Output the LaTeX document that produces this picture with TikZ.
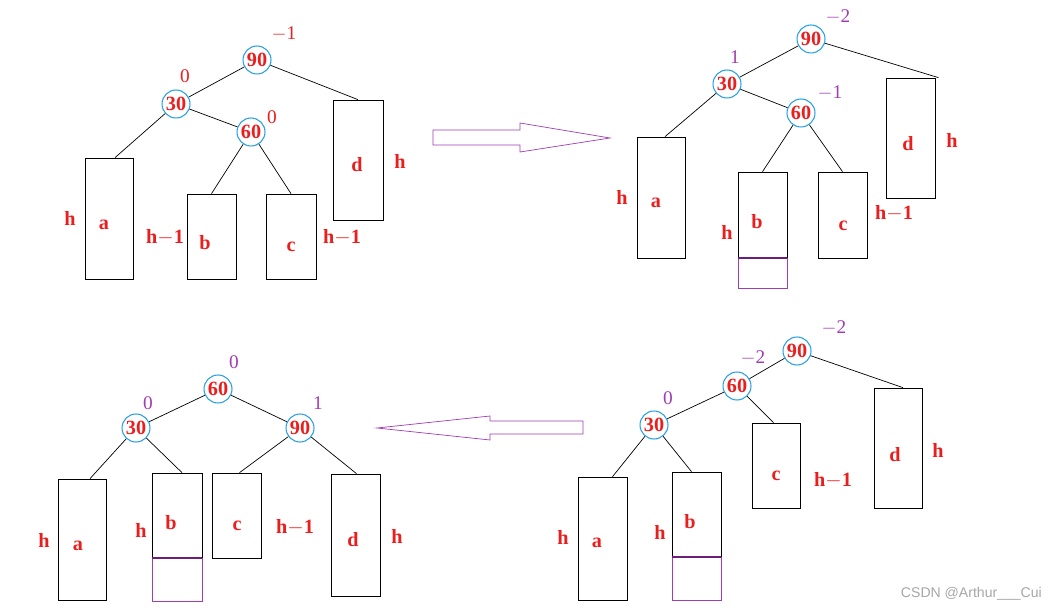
\documentclass[tikz,border=0pt]{standalone}
\usepackage{fontspec}
\setmainfont{Liberation Serif}
\newfontfamily\wm{Liberation Sans}
\definecolor{nred}{RGB}{235,30,30}
\definecolor{npur}{RGB}{160,60,180}
\definecolor{ncir}{RGB}{40,160,230}
\definecolor{dpur}{RGB}{110,30,120}
\newcommand\bx[5]{\node[box,minimum width={(#4-#2)*0.02cm},minimum height={(#5-#3)*0.02cm}] (#1) at ({(#2+#4)/2},{(#3+#5)/2}) {};}
\newcommand\pbx[5]{\node[pbox,minimum width={(#4-#2)*0.02cm},minimum height={(#5-#3)*0.02cm}] (#1) at ({(#2+#4)/2},{(#3+#5)/2}) {};
\draw[dpur,line width=1.2pt] (#1.north west) -- (#1.north east);}
\begin{document}
\begin{tikzpicture}[x=0.02cm,y=-0.02cm,
 cir/.style={circle,draw=ncir,semithick,minimum size=0.56cm,inner sep=0pt,text=nred,font=\bfseries\fontsize{11.5}{12}\selectfont},
 box/.style={rectangle,draw,thin,inner sep=0pt},
 pbox/.style={rectangle,draw=npur,thin,inner sep=0pt},
 lt/.style={text=nred,font=\bfseries\fontsize{11.5}{12}\selectfont,inner sep=0pt},
 bf/.style={text=nred,font=\fontsize{11}{12}\selectfont,inner sep=0pt},
 bp/.style={text=npur,font=\fontsize{11}{12}\selectfont,inner sep=0pt},
 ed/.style={thin},
 harr/.style={draw=npur,thin}]
\useasboundingbox (0,0) rectangle (1060,614);
% ---------- top left
\node[cir] (a90) at (257,60) {90};
\node[cir] (a30) at (176,104) {30};
\node[cir] (a60) at (251,132) {60};
\node[bf] at (284,34) {$-$1};
\node[bf] at (185,76) {0};
\node[bf] at (272,117) {0};
\bx{aa}{85}{158}{133}{279}
\bx{ab}{187}{194}{236}{279}
\bx{ac}{266}{194}{316}{279}
\bx{ad}{333}{100}{383}{220}
\node[lt] at (104,225) {a}; \node[lt] at (70,218) {h};
\node[lt] at (205,243) {b}; \node[lt] at (165,237) {h$-$1};
\node[lt] at (291,247) {c}; \node[lt] at (342,237) {h$-$1};
\node[lt] at (357,165) {d}; \node[lt] at (400,161) {h};
\draw[ed] (a90) -- (a30); \draw[ed] (a90) -- (ad.north);
\draw[ed] (a30) -- (a60); \draw[ed] (a30) -- ([xshift=0.12cm]aa.north);
\draw[ed] (a60) -- (ab.north); \draw[ed] (a60) -- (ac.north);
% arrow right
\coordinate (r1) at (433,130); \coordinate (r2) at (610,138);
\draw[harr] (r1) -- (520,130) -- (520,123) -- (r2) -- (520,152) -- (520,145) -- (433,145) -- cycle;
% ---------- top right
\node[cir] (b90) at (811,39) {90};
\node[cir] (b30) at (727,84) {30};
\node[cir] (b60) at (801,113) {60};
\node[bp] at (838,17) {$-$2};
\node[bp] at (735,57) {1};
\node[bp] at (830,93) {$-$1};
\bx{ba}{637}{137}{685}{258}
\bx{bb}{738}{172}{787}{258}
\pbx{bbx}{738}{258}{787}{288}
\bx{bc}{818}{172}{867}{258}
\bx{bd}{886}{78}{935}{198}
\node[lt] at (656,203) {a}; \node[lt] at (622,197) {h};
\node[lt] at (757,222) {b}; \node[lt] at (727,232) {h};
\node[lt] at (843,226) {c}; \node[lt] at (894,213) {h$-$1};
\node[lt] at (908,144) {d}; \node[lt] at (952,140) {h};
\draw[ed] (b90) -- (b30); \draw[ed] (b90) -- ([xshift=0.56cm]bd.north);
\draw[ed] (b30) -- (b60); \draw[ed] (b30) -- ([xshift=0.08cm]ba.north);
\draw[ed] (b60) -- (bb.north); \draw[ed] (b60) -- (bc.north);
% ---------- bottom right
\node[cir] (c90) at (797,351) {90};
\node[cir] (c60) at (737,386) {60};
\node[cir] (c30) at (654,425) {30};
\node[bp] at (834,328) {$-$2};
\node[bp] at (753,358) {$-$2};
\node[bp] at (668,398) {0};
\bx{ca}{578}{477}{627}{600}
\bx{cb}{672}{472}{721}{557}
\pbx{cbx}{672}{557}{721}{600}
\bx{cc}{752}{423}{800}{508}
\bx{cd}{874}{388}{922}{508}
\node[lt] at (597,543) {a}; \node[lt] at (563,537) {h};
\node[lt] at (690,522) {b}; \node[lt] at (660,532) {h};
\node[lt] at (776,476) {c}; \node[lt] at (833,480) {h$-$1};
\node[lt] at (895,455) {d}; \node[lt] at (938,450) {h};
\draw[ed] (c90) -- (c60); \draw[ed] (c90) -- ([xshift=0.1cm]cd.north);
\draw[ed] (c60) -- (c30); \draw[ed] (c60) -- ([xshift=-0.05cm]cc.north);
\draw[ed] (c30) -- ([xshift=0.2cm]ca.north); \draw[ed] (c30) -- ([xshift=-0.1cm]cb.north);
% arrow left
\coordinate (l1) at (583,427); \coordinate (l2) at (377,428);
\draw[harr] (583,421) -- (490,421) -- (490,416) -- (l2) -- (490,440) -- (490,434) -- (583,434) -- cycle;
% ---------- bottom left
\node[cir] (d60) at (218,389) {60};
\node[cir] (d30) at (136,428) {30};
\node[cir] (d90) at (300,428) {90};
\node[bp] at (234,362) {0};
\node[bp] at (148,403) {0};
\node[bp] at (318,403) {1};
\bx{da}{58}{479}{106}{600}
\bx{db}{152}{473}{202}{558}
\pbx{dbx}{152}{558}{202}{601}
\bx{dc}{212}{473}{261}{558}
\bx{dd}{331}{474}{380}{596}
\node[lt] at (78,546) {a}; \node[lt] at (44,540) {h};
\node[lt] at (171,523) {b}; \node[lt] at (141,530) {h};
\node[lt] at (237,526) {c}; \node[lt] at (295,527) {h$-$1};
\node[lt] at (353,540) {d}; \node[lt] at (397,536) {h};
\draw[ed] (d60) -- (d30); \draw[ed] (d60) -- (d90);
\draw[ed] (d30) -- ([xshift=0.16cm]da.north); \draw[ed] (d30) -- ([xshift=0.1cm]db.north);
\draw[ed] (d90) -- ([xshift=0.06cm]dc.north); \draw[ed] (d90) -- ([xshift=0.02cm]dd.north);
\node[text=gray!70,font=\wm\fontsize{8}{9}\selectfont,anchor=east] at (1048,594) {CSDN @Arthur\_\_\_Cui};
\end{tikzpicture}
\end{document}
